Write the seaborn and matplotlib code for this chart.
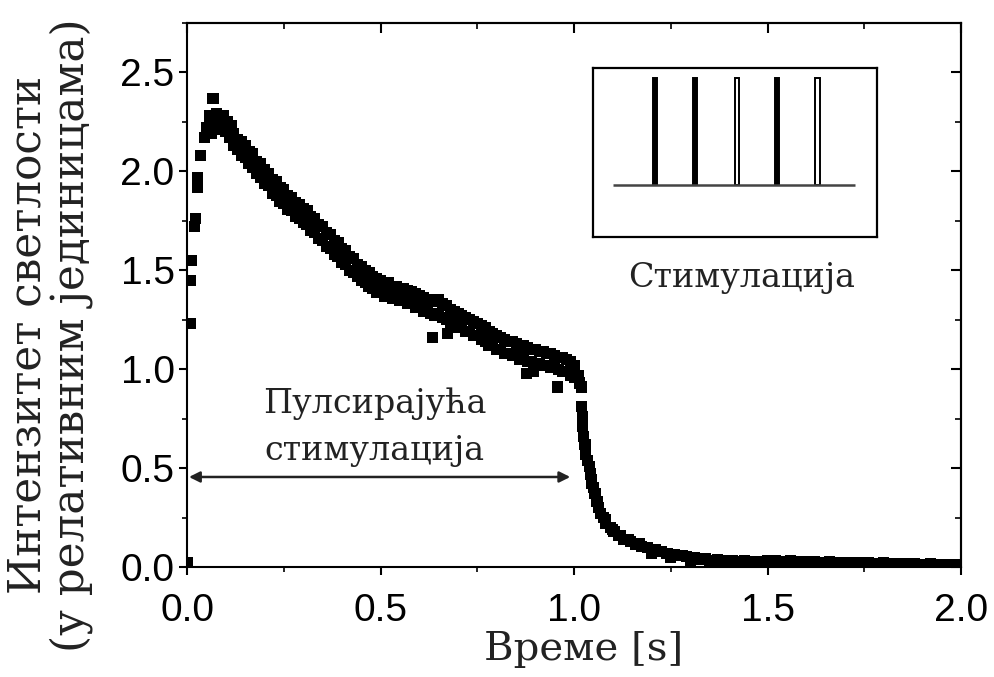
import matplotlib
matplotlib.use("Agg")
import matplotlib.pyplot as plt
from matplotlib.ticker import MultipleLocator, FormatStrFormatter, NullFormatter
import pandas as pd
import seaborn as sns

# --- measured light intensity (relative units) versus time [s] ---

# fast rise right after stimulation starts
rise_t = [0.000, 0.008, 0.008, 0.012, 0.020, 0.021, 0.026, 0.027, 0.034, 0.045,
          0.050, 0.058, 0.062, 0.067, 0.070, 0.075, 0.080, 0.085, 0.090, 0.095,
          0.100, 0.105, 0.110, 0.115]
rise_v = [0.02, 1.23, 1.45, 1.55, 1.72, 1.76, 1.92, 1.97, 2.08, 2.17,
          2.22, 2.28, 2.19, 2.37, 2.25, 2.29, 2.21, 2.26, 2.23, 2.28,
          2.20, 2.25, 2.17, 2.23]

# slow decline during pulsed stimulation: upper and lower edge of the sample band
decay_t = [0.12, 0.13, 0.14, 0.15, 0.16, 0.17, 0.18, 0.19, 0.20, 0.21,
           0.22, 0.23, 0.24, 0.25, 0.26, 0.27, 0.28, 0.29, 0.30, 0.31,
           0.32, 0.33, 0.34, 0.35, 0.36, 0.37, 0.38, 0.39, 0.40, 0.41,
           0.42, 0.43, 0.44, 0.45, 0.46, 0.47, 0.48, 0.49, 0.50, 0.51,
           0.52, 0.53, 0.54, 0.55, 0.56, 0.57, 0.58, 0.59, 0.60, 0.61,
           0.62, 0.63, 0.64, 0.65, 0.66, 0.67, 0.68, 0.69, 0.70, 0.71,
           0.72, 0.73, 0.74, 0.75, 0.76, 0.77, 0.78, 0.79, 0.80, 0.81,
           0.82, 0.83, 0.84, 0.85, 0.86, 0.87, 0.88, 0.89, 0.90, 0.91,
           0.92, 0.93, 0.94, 0.95, 0.96, 0.97, 0.98, 0.99, 1.00]
decay_hi = [2.19, 2.16, 2.15, 2.13, 2.10, 2.09, 2.05, 2.04, 2.01, 1.99,
            1.96, 1.95, 1.92, 1.91, 1.88, 1.87, 1.84, 1.83, 1.81, 1.80,
            1.77, 1.76, 1.73, 1.72, 1.69, 1.68, 1.65, 1.64, 1.61, 1.60,
            1.57, 1.56, 1.53, 1.52, 1.50, 1.49, 1.47, 1.46, 1.45, 1.44,
            1.44, 1.42, 1.42, 1.41, 1.41, 1.40, 1.39, 1.38, 1.37, 1.36,
            1.35, 1.35, 1.34, 1.35, 1.33, 1.32, 1.30, 1.29, 1.28, 1.27,
            1.26, 1.25, 1.24, 1.23, 1.22, 1.21, 1.19, 1.18, 1.17, 1.16,
            1.15, 1.14, 1.14, 1.13, 1.12, 1.12, 1.11, 1.10, 1.10, 1.09,
            1.09, 1.08, 1.08, 1.07, 1.06, 1.06, 1.05, 1.04, 1.02]
decay_lo = [2.13, 2.11, 2.08, 2.07, 2.04, 2.02, 1.99, 1.97, 1.94, 1.93,
            1.89, 1.88, 1.85, 1.84, 1.81, 1.80, 1.77, 1.76, 1.74, 1.73,
            1.70, 1.69, 1.66, 1.65, 1.62, 1.61, 1.58, 1.57, 1.54, 1.53,
            1.50, 1.49, 1.47, 1.45, 1.44, 1.42, 1.41, 1.39, 1.39, 1.37,
            1.38, 1.36, 1.36, 1.35, 1.35, 1.33, 1.33, 1.31, 1.31, 1.29,
            1.29, 1.28, 1.27, 1.28, 1.26, 1.25, 1.23, 1.23, 1.21, 1.21,
            1.19, 1.19, 1.17, 1.17, 1.15, 1.14, 1.12, 1.12, 1.10, 1.10,
            1.08, 1.08, 1.07, 1.07, 1.05, 1.06, 1.04, 1.04, 1.03, 1.03,
            1.02, 1.02, 1.01, 1.01, 1.00, 0.99, 0.99, 0.97, 0.96]

# isolated samples below the band
stray_t = [0.633, 0.672, 0.878, 0.895, 0.956]
stray_v = [1.16, 1.18, 0.98, 0.99, 0.91]

# fall-off once stimulation stops
drop_t = [1.010, 1.015, 1.020, 1.020, 1.022, 1.022, 1.025, 1.028, 1.030, 1.035,
          1.040, 1.042, 1.045, 1.050, 1.054, 1.058, 1.062, 1.068, 1.075, 1.082,
          1.093, 1.103, 1.114, 1.128, 1.145, 1.160, 1.175, 1.190, 1.210, 1.225,
          1.240, 1.260, 1.280, 1.310, 1.340, 1.370, 1.395, 1.430, 1.480,
          1.200, 1.250, 1.300, 1.350, 1.400, 1.450,
          1.030, 1.045, 1.060, 1.080, 1.100, 1.120, 1.140, 1.170,
          1.270, 1.290, 1.320, 1.330, 1.360, 1.380, 1.410, 1.420, 1.440, 1.460,
          1.470, 1.490]
drop_v = [0.97, 0.93, 0.91, 0.81, 0.76, 0.71, 0.66, 0.62, 0.59, 0.54,
          0.51, 0.47, 0.44, 0.40, 0.37, 0.33, 0.30, 0.27, 0.25, 0.22,
          0.20, 0.18, 0.16, 0.14, 0.13, 0.115, 0.105, 0.10, 0.09, 0.08,
          0.07, 0.065, 0.06, 0.05, 0.045, 0.04, 0.03, 0.028, 0.02,
          0.07, 0.05, 0.035, 0.03, 0.02, 0.015,
          0.57, 0.42, 0.33, 0.24, 0.19, 0.16, 0.14, 0.12,
          0.06, 0.055, 0.045, 0.04, 0.035, 0.035, 0.03, 0.025, 0.03, 0.02,
          0.025, 0.015]

# residual glow: upper and lower edge of the flat tail
tail_t = [1.50, 1.52, 1.54, 1.56, 1.58, 1.60, 1.62, 1.64, 1.66, 1.68,
          1.70, 1.72, 1.74, 1.76, 1.78, 1.80, 1.82, 1.84, 1.86, 1.88,
          1.90, 1.92, 1.94, 1.96, 1.98, 2.00]
tail_hi = [0.030, 0.030, 0.028, 0.030, 0.027, 0.025, 0.026, 0.024, 0.025, 0.022,
           0.023, 0.020, 0.022, 0.020, 0.018, 0.020, 0.017, 0.018, 0.015, 0.017,
           0.014, 0.015, 0.012, 0.014, 0.012, 0.010]
tail_lo = [0.012, 0.010, 0.011, 0.008, 0.010, 0.007, 0.009, 0.006, 0.008, 0.005,
           0.007, 0.004, 0.006, 0.004, 0.005, 0.003, 0.004, 0.002, 0.003, 0.002,
           0.003, 0.001, 0.002, 0.000, 0.001, 0.000]

# stimulation window [s]
stim_start = 0.005
stim_end = 0.99

# stimulation pulse train shown in the inset (position, fill)
pulse_x = [0.218, 0.359, 0.507, 0.648, 0.789]
pulse_fill = ["black", "black", "white", "black", "white"]
pulse_base = 0.308
pulse_height = 0.632

samples = pd.DataFrame({
    "t": rise_t + decay_t + decay_t + stray_t + drop_t + tail_t + tail_t,
    "v": rise_v + decay_hi + decay_lo + stray_v + drop_v + tail_hi + tail_lo,
})

sns.set_theme(style="white")
plt.rcParams["font.family"] = ["Liberation Sans", "DejaVu Sans"]
serif = ["DejaVu Serif"]

fig = plt.figure(figsize=(9.95, 6.77), dpi=100)
ax = fig.add_axes([0.188, 0.1625, 0.778, 0.8035])

sns.scatterplot(data=samples, x="t", y="v", marker="s", s=64, color="black",
                edgecolor="none", linewidth=0, legend=False, ax=ax)

ax.set_xlim(0, 2.0)
ax.set_ylim(0, 2.75)
ax.xaxis.set_major_locator(MultipleLocator(0.5))
ax.xaxis.set_minor_locator(MultipleLocator(0.25))
ax.yaxis.set_major_locator(MultipleLocator(0.5))
ax.yaxis.set_minor_locator(MultipleLocator(0.25))
ax.xaxis.set_major_formatter(FormatStrFormatter("%.1f"))
ax.yaxis.set_major_formatter(FormatStrFormatter("%.1f"))

for side in ax.spines.values():
    side.set_color("black")
    side.set_linewidth(1.5)

ax.tick_params(axis="both", which="major", direction="out", length=6, width=1.5,
               color="black", labelsize=28, labelcolor="black")
ax.tick_params(axis="both", which="minor", direction="out", length=3.5, width=1.2,
               color="black")
ax.tick_params(axis="x", which="major", pad=13)
ax.tick_params(axis="y", which="major", pad=3)
ax.tick_params(axis="both", which="both", bottom=True, left=True)

# inward ticks along the top and right frame
top = ax.secondary_xaxis("top")
right = ax.secondary_yaxis("right")
for sec, axis in ((top, top.xaxis), (right, right.yaxis)):
    axis.set_major_locator(MultipleLocator(0.5))
    axis.set_minor_locator(MultipleLocator(0.25))
    axis.set_major_formatter(NullFormatter())
    sec.tick_params(which="major", direction="in", length=7, width=1.5, color="black")
    sec.tick_params(which="minor", direction="in", length=4, width=1.2, color="black")
    for side in sec.spines.values():
        side.set_linewidth(1.5)
        side.set_color("black")

ax.set_xlabel("Време [s]", fontsize=29, family=serif, color="#222222")
ax.xaxis.set_label_coords(0.512, -0.118)
ax.set_ylabel("")
fig.text(0.050, 0.505, "Интензитет светлости\n(у релативним јединицама)",
         rotation=90, ha="center", va="center", multialignment="center",
         fontsize=31.5, family=serif, color="#222222", linespacing=1.0)

# pulsed-stimulation interval
ax.annotate("", xy=(stim_start, 0.455), xytext=(stim_end, 0.455),
            arrowprops=dict(arrowstyle="<|-|>", color="#222222", lw=1.8,
                            mutation_scale=16, shrinkA=0, shrinkB=0))
ax.text(0.485, 0.78, "Пулсирајућа", ha="center", va="baseline",
        fontsize=24, family=serif, color="#222222")
ax.text(0.485, 0.54, "стимулација", ha="center", va="baseline",
        fontsize=24, family=serif, color="#222222")

# inset: stimulation pulse train
inset = ax.inset_axes([1.049, 1.67, 0.734, 0.855], transform=ax.transData)
inset.set_xlim(0, 1)
inset.set_ylim(0, 1)
inset.set_xticks([])
inset.set_yticks([])
inset.set_facecolor("white")
for side in inset.spines.values():
    side.set_color("black")
    side.set_linewidth(1.6)
    side.set_visible(True)
inset.plot([0.07, 0.923], [pulse_base, pulse_base], color="#444444", lw=1.8,
           solid_capstyle="butt")
inset.bar(pulse_x, [pulse_height] * len(pulse_x), bottom=pulse_base, width=0.016,
          color=pulse_fill, edgecolor="black", linewidth=1.4)
ax.text(1.434, 1.417, "Стимулација", ha="center", va="baseline",
        fontsize=24, family=serif, color="#222222")

fig.savefig("out.png", dpi=100, facecolor="white")
